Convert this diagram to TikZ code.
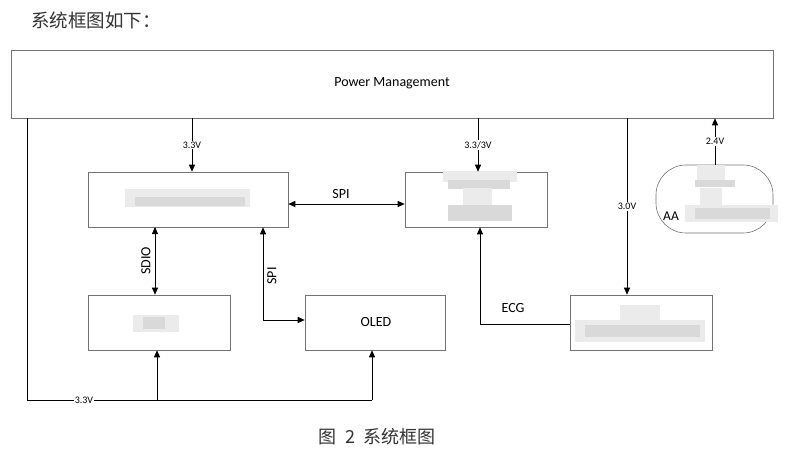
\documentclass[tikz,border=0pt]{standalone}
\usepackage{fontspec}
\setmainfont{Carlito}
\newfontfamily\cjk{Noto Sans CJK SC}
\usetikzlibrary{arrows.meta}
\begin{document}
\begin{tikzpicture}[x=1pt,y=-1pt,
  box/.style={draw=black!55,line width=0.6pt,rectangle,inner sep=0pt},
  conn/.style={draw=black,line width=0.8pt},
  arr/.style={conn,-{Triangle[length=7pt,width=6pt]}},
  darr/.style={conn,{Triangle[length=7pt,width=6pt]}-{Triangle[length=7pt,width=6pt]}},
  vlab/.style={font=\fontsize{10}{11}\selectfont,fill=white,inner sep=1pt},
  blab/.style={font=\fontsize{14}{16}\selectfont,inner sep=1pt},
  blur/.style={fill=black!15,draw=none},
  blurl/.style={fill=black!8,draw=none}]
\useasboundingbox (0,0) rectangle (800,457);
\fill[white] (0,0) rectangle (800,457);
% title and caption
\node[anchor=west,font=\cjk\fontsize{18.5}{20}\selectfont,inner sep=0pt,text=black!80] (title) at (31,20) {系统框图如下：};
\node[font=\cjk\fontsize{18}{19}\selectfont,inner sep=0pt,text=black!80] (caption) at (377,437) {图\hspace{9pt}2\hspace{9pt}系统框图};
% boxes
\node[box,minimum width=762pt,minimum height=68pt] (pm) at (392,84) {};
\node[blab] at (392,83) {Power Management};
\node[box,minimum width=200pt,minimum height=55pt] (mcu) at (188,199.5) {};
\node[box,minimum width=142pt,minimum height=55pt] (b2) at (476,199.5) {};
\node[box,minimum width=142pt,minimum height=55pt] (b3) at (159,322.5) {};
\node[box,minimum width=140pt,minimum height=55pt] (oled) at (375,322.5) {};
\node[blab] at (376,322) {OLED};
\node[box,minimum width=142pt,minimum height=55pt] (b4) at (641,322.5) {};
\node[box,minimum width=117pt,minimum height=68pt,rounded corners=30pt] (bat) at (714.5,199) {};
% blurred (pixelated) contents
\fill[blurl] (125,189) rectangle (250,207);
\fill[blur] (135,197) rectangle (245,206);
\fill[blurl] (443,171) rectangle (517,182);
\fill[blur] (448,180) rectangle (510,189);
\fill[blurl] (463,188) rectangle (492,206);
\fill[blur] (448,205) rectangle (512,221);
\fill[blurl] (133,315) rectangle (179,332);
\fill[blur] (143,317) rectangle (165,329);
\fill[blurl] (620,305) rectangle (660,320);
\fill[blurl] (575,320) rectangle (705,342);
\fill[blur] (585,325) rectangle (700,337);
\fill[blurl] (697,165) rectangle (725,180);
\fill[blur] (695,180) rectangle (735,187);
\fill[blurl] (700,188) rectangle (722,208);
\fill[blurl] (685,205) rectangle (778,222);
\fill[blur] (695,208) rectangle (770,219);
\node[font=\fontsize{13.5}{14}\selectfont,inner sep=0pt] (aa) at (671,216) {AA};
% power rails
\coordinate (pl) at (27,118);
\coordinate (pc) at (27,400);
\coordinate (j1) at (157,400);
\coordinate (j2) at (372,400);
\draw[conn] (pl) -- (pc) -- (j2);
\node[vlab] (l33b) at (84,400) {3.3V};
\draw[arr] (j1) -- (j1 |- b3.south);
\draw[arr] (j2) -- (j2 |- oled.south);
\draw[arr] (192,118) coordinate (p1) -- (p1 |- mcu.north) node[vlab,pos=0.5] (l33) {3.3V};
\draw[arr] (478,118) coordinate (p2) -- (p2 |- b2.north) node[vlab,pos=0.5] (l333) {3.3/3V};
\draw[arr] (627,118) coordinate (p3) -- (p3 |- b4.north) node[vlab,pos=0.5] (l30) {3.0V};
\draw[arr] (715,165) coordinate (p4) -- (p4 |- pm.south) node[vlab,pos=0.5] (l24) {2.4V};
% buses
\draw[darr] (mcu.east |- 0,204) -- (b2.west |- 0,204);
\node[blab] (spi1) at (341,194) {SPI};
\draw[darr] (155,227) coordinate (s1) -- (s1 |- b3.north);
\node[blab,rotate=90] (sdio) at (146,261) {SDIO};
\draw[arr] (263,320) coordinate (s2) -- (s2 |- mcu.south);
\draw[arr] (s2) -- (s2 -| oled.west);
\node[blab,rotate=90] (spi2) at (272,276) {SPI};
\coordinate (e1) at (480,324);
\draw[conn] (b4.west |- e1) -- (e1);
\draw[arr] (e1) -- (e1 |- b2.south);
\node[blab] (ecg) at (513,308) {ECG};
\end{tikzpicture}
\end{document}
